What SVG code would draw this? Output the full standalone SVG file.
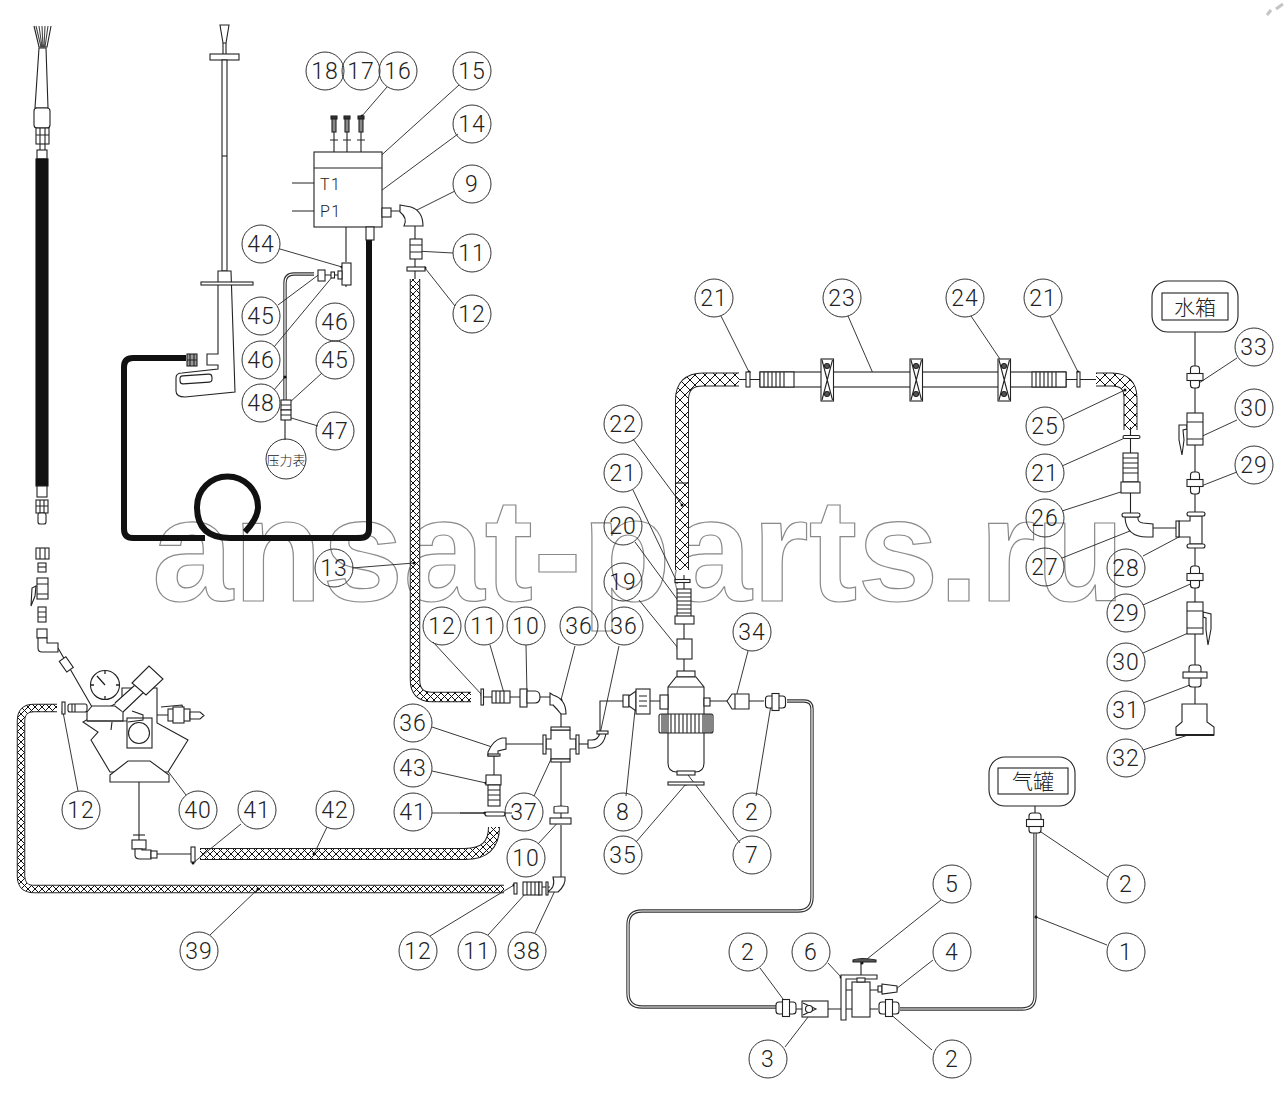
<svg xmlns="http://www.w3.org/2000/svg" width="1285" height="1116" viewBox="0 0 1285 1116">
<style>
text{font-family:Roboto,"Liberation Sans","Noto Sans CJK SC",sans-serif;fill:#222;font-weight:300}
.b circle{fill:#fff;fill-opacity:0;stroke:#333;stroke-width:1}
.b text{font-size:23px;text-anchor:middle;letter-spacing:1px}
.l,.l *{fill:none;stroke:#222;stroke-width:1.1}
.p,.p *{fill:#fff;stroke:#222;stroke-width:1.1}
.t{fill:none;stroke:#111;stroke-width:6;stroke-linejoin:round}
.e{fill:none;stroke:#222;stroke-linecap:butt}
.lead line{stroke:#222;stroke-width:.9;marker-end:url(#dot)}
.d1{fill:none;stroke:#333;stroke-width:3.4}
.d2{fill:none;stroke:#fff;stroke-width:1.2}
</style>
<defs>
<marker id="dot" markerUnits="userSpaceOnUse" markerWidth="4" markerHeight="4" refX="2" refY="2"><circle cx="2" cy="2" r="1.5" fill="#111"/></marker>
<pattern id="xs" width="7" height="7" patternUnits="userSpaceOnUse"><rect width="7" height="7" fill="#fff"/><path d="M0 0L7 7M7 0L0 7" stroke="#111" stroke-width="1"/></pattern>
<pattern id="xl" width="10" height="10" patternUnits="userSpaceOnUse"><rect width="10" height="10" fill="#fff"/><path d="M0 0L10 10M10 0L0 10" stroke="#111" stroke-width="1"/></pattern>
<g id="fit" class="p"><rect x="-4.500" y="-11" width="9" height="22" rx="3"/><rect x="-8" y="-3.500" width="16" height="7"/></g>
<g id="hfit" class="p"><rect x="-10" y="-6" width="20" height="12" rx="3"/><rect x="-3.500" y="-8.500" width="7" height="17"/></g>
<g id="clamp" class="p"><rect x="0" y="0" width="12.500" height="42"/><path d="M1 1L11.500 41M11.500 1L1 41"/><circle cx="6" cy="7" r="2.500" style="fill:#555"/><circle cx="6" cy="35" r="2.500" style="fill:#555"/></g>
<g id="corr" class="p"><rect width="34" height="15"/><path d="M4 0V15M8 0V15M12 0V15M16 0V15M20 0V15M24 0V15"/></g>
</defs>
<rect width="1285" height="1116" fill="#fff"/>
<path id="corner-mark" d="M1267 15L1271 10M1276 9L1283 4" stroke="#c4c4c4" stroke-width="3" fill="none"/>
<text id="watermark" x="152" y="601" font-size="146" textLength="973" lengthAdjust="spacingAndGlyphs" style="font-family:'Liberation Sans',sans-serif;font-weight:700;fill:none;stroke:#8a8a8a;stroke-width:1.2">ansat-parts.ru</text>

<g id="connectors">
 <!-- hoses -->
 <g id="hose-thick">
  <path class="t" d="M186 358H133Q124 358 124 367V529Q124 538 133 538H205"/>
  <path class="t" d="M245 532Q258 518 258 507A30.500 30.500 0 0 0 197 507Q197 538 230 538H360Q369 538 369 529V240"/>
 </g>
 <path class="e" stroke-width="10.500" d="M415 279V680Q415 697 432 697H471"/>
 <path class="e" style="stroke:url(#xs)" stroke-width="8.500" d="M415 279V680Q415 697 432 697H471"/>
 <path class="e" stroke-width="8.500" d="M57 708H34Q21 708 21 721V876Q21 889 34 889H504"/>
 <path class="e" style="stroke:url(#xs)" stroke-width="6.500" d="M57 708H34Q21 708 21 721V876Q21 889 34 889H504"/>
 <path class="e" stroke-width="12" d="M200 854H465Q494 854 494 827"/>
 <path class="e" style="stroke:url(#xs)" stroke-width="10" d="M200 854H465Q494 854 494 827"/>
 <path class="e" stroke-width="14" d="M682 570V400Q682 379.500 703 379.500H739"/>
 <path class="e" style="stroke:url(#xl)" stroke-width="12" d="M682 570V400Q682 379.500 703 379.500H739"/>
 <path class="l" d="M675 483H689"/>
 <path class="e" stroke-width="14" d="M1096 379.500H1112Q1130.500 379.500 1130.500 398V430"/>
 <path class="e" style="stroke:url(#xl)" stroke-width="12" d="M1096 379.500H1112Q1130.500 379.500 1130.500 398V430"/>
 <!-- double pipes -->
 <path class="d1" d="M787 701H804Q812 701 812 709V897Q812 911 798 911H642Q628 911 628 925V993Q628 1007 642 1007H776"/>
 <path class="d2" d="M787 701H804Q812 701 812 709V897Q812 911 798 911H642Q628 911 628 925V993Q628 1007 642 1007H776"/>
 <path class="d1" d="M900 1009H1022Q1035 1009 1035 996V832"/>
 <path class="d2" d="M900 1009H1022Q1035 1009 1035 996V832"/>
 <path class="d1" d="M314 274H294Q285 274 285 283V402"/>
 <path class="d2" d="M314 274H294Q285 274 285 283V402"/>
 <!-- plain lines -->
 <g class="l">
  <path d="M334 152V116M347 152V116M361 152V116M346 227V262M325 275H342"/>
  <path d="M391 211H402M415 226V240M415 259V279"/>
  <path d="M285 420V440"/>
  <path d="M739 379.500H760M1066 379.500H1096"/>
  <path d="M1130.500 427V453M1130.500 493V513M1153 528H1177"/>
  <path d="M1195 332V704"/>
  <path d="M684 575V589M684 624V639M684 659V671"/>
  <path d="M650 701H660M710 701H727M749 701H764"/>
  <path d="M623 701H600V732"/>
  <path d="M506 744H543M494 756V775M561 762V818M561 825V880"/>
  <path d="M482 697H492M510 697H520M540 697H550M561 706V727"/>
  <path d="M579 744H588"/>
  <path d="M139 748V840M157 854H191M143 715H168"/>
  <path d="M133 835H145"/>
  <path d="M1035 806V815M861 982V960M846 990H878"/>
  <path d="M796 1009H802M828 1009H878M58 648L92 707"/>
  <path d="M460 813H485M505 813H512M516 889V885M541 887H550"/>
 </g>
 <!-- leaders -->
 <g class="lead">
  <line x1="387" y1="87" x2="362" y2="116"/><line x1="459" y1="85" x2="375" y2="161"/>
  <line x1="458" y1="134" x2="374" y2="196"/><line x1="455" y1="191" x2="411" y2="213"/>
  <line x1="453" y1="253" x2="416" y2="251"/><line x1="455" y1="306" x2="425" y2="268"/>
  <line x1="280" y1="249" x2="342" y2="267"/><line x1="278" y1="305" x2="321" y2="273"/>
  <line x1="274" y1="347" x2="333" y2="276"/><line x1="322" y1="373" x2="289" y2="403"/>
  <line x1="274" y1="390" x2="285" y2="377"/><line x1="318" y1="426" x2="288" y2="417"/>
  <line x1="721" y1="316" x2="749" y2="372"/><line x1="848" y1="316" x2="875" y2="378"/>
  <line x1="971" y1="316" x2="1004" y2="365"/><line x1="1050" y1="316" x2="1078" y2="372"/>
  <line x1="633" y1="439" x2="682" y2="505"/><line x1="633" y1="490" x2="677" y2="582"/>
  <line x1="635" y1="542" x2="685" y2="610"/><line x1="639" y1="600" x2="678" y2="648"/>
  <line x1="1062" y1="420" x2="1125" y2="390"/><line x1="1062" y1="466" x2="1127" y2="437"/>
  <line x1="1062" y1="511" x2="1133" y2="488"/><line x1="1062" y1="558" x2="1140" y2="527"/>
  <line x1="1143" y1="556" x2="1194" y2="529"/><line x1="1237" y1="358" x2="1196" y2="385"/>
  <line x1="1237" y1="420" x2="1196" y2="439"/><line x1="1237" y1="472" x2="1196" y2="488"/>
  <line x1="1143" y1="605" x2="1195" y2="582"/><line x1="1143" y1="653" x2="1195" y2="630"/>
  <line x1="1143" y1="703" x2="1195" y2="683"/><line x1="1143" y1="750" x2="1197" y2="732"/>
  <line x1="78" y1="791" x2="63" y2="712"/><line x1="186" y1="795" x2="139" y2="733"/>
  <line x1="241" y1="824" x2="193" y2="863"/><line x1="327" y1="827" x2="314" y2="854"/>
  <line x1="210" y1="935" x2="258" y2="889"/><line x1="430" y1="936" x2="514" y2="885"/>
  <line x1="488" y1="935" x2="526" y2="893"/><line x1="535" y1="933" x2="560" y2="880"/>
  <line x1="538" y1="844" x2="561" y2="819"/><line x1="534" y1="796" x2="558" y2="744"/>
  <line x1="432" y1="727" x2="492" y2="747"/><line x1="432" y1="771" x2="486" y2="783"/>
  <line x1="575" y1="646" x2="561" y2="700"/><line x1="619" y1="646" x2="600" y2="734"/>
  <line x1="526" y1="645" x2="527" y2="695"/><line x1="490" y1="645" x2="506" y2="700"/>
  <line x1="433" y1="642" x2="482" y2="695"/><line x1="626" y1="796" x2="636" y2="701"/>
  <line x1="636" y1="842" x2="686" y2="784"/><line x1="740" y1="843" x2="685" y2="771"/>
  <line x1="756" y1="796" x2="771" y2="705"/><line x1="748" y1="651" x2="735" y2="701"/>
  <line x1="352" y1="568" x2="414" y2="563"/>
  <line x1="1107" y1="945" x2="1036" y2="917"/><line x1="1108" y1="877" x2="1038" y2="830"/>
  <line x1="941" y1="900" x2="862" y2="963"/><line x1="933" y1="960" x2="896" y2="989"/>
  <line x1="932" y1="1050" x2="888" y2="1012"/><line x1="785" y1="1047" x2="815" y2="1008"/>
  <line x1="828" y1="963" x2="841" y2="977"/><line x1="760" y1="968" x2="786" y2="1003"/>
  <line x1="432" y1="813" x2="485" y2="813"/>
 </g>
</g>

<g id="spray-wand" class="p">
 <path d="M34 26L39 47H47L51 26" style="fill:none"/><path d="M36 26L41 47M39 26L42 47M42 26L43 47M45 26L44 47M48 26L45 47" style="fill:none;stroke:#444"/>
 <path d="M39 48H46L48 108H35Z"/>
 <rect x="34" y="108" width="16" height="20" rx="3"/>
 <rect x="36" y="128" width="13" height="16"/><path d="M36 135H49M40 128V144M45 128V144"/>
 <path d="M40 144V150M45 144V150" style="fill:none"/>
 <rect x="37" y="150" width="10" height="9"/>
 <rect x="36" y="159" width="12" height="327" style="fill:#111;stroke:#111"/>
 <rect x="37" y="486" width="10" height="11"/>
 <rect x="36" y="500" width="12" height="13"/><path d="M36 506H48M40 500V513M44 500V513"/>
 <rect x="38" y="513" width="8" height="11" rx="2"/>
</g>

<g id="lance" class="p">
 <path d="M220 25H229L226 43H223Z"/>
 <path d="M223 43V54M226 43V54" style="fill:none"/>
 <rect x="210" y="54" width="29" height="6"/>
 <rect x="222" y="60" width="5" height="211"/>
 <path d="M222 156H227" style="fill:none"/>
 <path d="M218 271H231L235 392L185 397Q176 397 176 391V378Q176 373 182 373L218 369V365H207V354H218Z"/>
 <rect x="201" y="282" width="52" height="3"/>
 <rect x="180" y="375" width="32" height="8" rx="3" transform="rotate(-4 196 379)"/>
 <rect x="187" y="354" width="10" height="12" style="fill:#999"/><path d="M187 360H197M190 354V366M194 354V366" style="fill:none"/>
</g>

<g id="control-box" class="p">
 <rect x="314" y="152" width="68" height="75"/><path d="M314 168H382M292 183H314M292 211H314"/>
 <rect x="382" y="208" width="9" height="9"/>
 <rect x="366" y="227" width="8" height="13"/>
 <path d="M400 205L411 207Q423 211 423 226H404Q408 218 400 212Z"/>
 <rect x="410" y="239" width="12" height="20"/><path d="M410 245H422M410 252H422"/>
 <rect x="407" y="267" width="18" height="4"/>
 <text x="320" y="190" style="font-size:16px;letter-spacing:1.500px;fill:#222;stroke:none">T1</text>
 <text x="320" y="217" style="font-size:16px;letter-spacing:1.500px;fill:#222;stroke:none">P1</text>
</g>
<g id="bolts" class="p">
 <rect x="331" y="116" width="6" height="3" style="fill:#333"/><rect x="344" y="116" width="6" height="3" style="fill:#333"/><rect x="358" y="116" width="6" height="3" style="fill:#333"/>
 <rect x="332" y="119" width="4" height="13" style="fill:#888"/><rect x="345" y="119" width="4" height="13" style="fill:#888"/><rect x="359" y="119" width="4" height="13" style="fill:#888"/>
 <path d="M330 140H338M343 140H351M357 140H365" style="fill:none"/>
</g>
<g id="gauge-line" class="p">
 <rect x="342" y="263" width="9" height="22"/><rect x="338" y="271" width="4" height="8"/><path d="M346 285V287" style="fill:none"/>
 <rect x="331" y="272" width="3.500" height="6"/><rect x="318" y="270" width="7" height="11"/>
 <rect x="281" y="400" width="10" height="10"/><rect x="281" y="410" width="10" height="10"/><path d="M281 405H291M281 415H291" style="fill:none"/>
</g>

<g id="regulator" class="p">
 <path d="M122 688H157V723L188 740L168 772L110 772L91 740L98 732L83 722L122 700Z" style="fill:#fff"/>
 <path d="M110 775L128 761H150L169 775V782H110Z"/>
 <path d="M87 712L92 706H115L123 712V721H87Z"/>
 <path d="M143 721H87M115 703L135 685L144 692L123 712" style="fill:#fff"/>
 <path d="M132 683L149 666L163 679L146 695Z"/>
 <circle cx="105" cy="685" r="14.500"/><path d="M97 676L105 685M105 671V674M105 696V699M91 685H94M116 685H119" style="fill:none;stroke-width:1.300"/>
 <rect x="68" y="704" width="19" height="8" rx="2"/><path d="M72 704V712M75 704V712" style="fill:none"/>
 <rect x="62" y="702" width="3" height="12"/>
 <rect x="127" y="718" width="25" height="30"/><circle cx="139" cy="733" r="10.500"/>
 <path d="M128 722L143 720V715L132 711" style="fill:none"/>
 <path d="M111 730L112 722" style="fill:none"/>
</g>
<g id="reg-valve" class="p">
 <path d="M161 707L182 705L183 708"/>
 <rect x="168" y="709" width="22" height="12"/><rect x="173" y="707" width="11" height="16"/>
 <path d="M190 712H200L204 715.500L200 719H190Z"/>
</g>
<g id="inlet-stack" class="p">
 <rect x="36" y="548" width="13" height="11"/><path d="M40 548V559M45 548V559" style="fill:none"/>
 <rect x="38" y="563" width="8" height="9"/><path d="M38 567H46" style="fill:none"/>
 <rect x="37" y="578" width="11" height="21"/><path d="M37 584H48M37 594H48" style="fill:none"/>
 <path d="M36 586L32 588L31 606L35 596Z"/>
 <rect x="38" y="607" width="8" height="15"/><path d="M38 612H46M38 617H46" style="fill:none"/>
 <rect x="37" y="629" width="10" height="9"/>
 <path d="M38 638V648Q38 652 42 652H58V643H47V638Z"/>
 <rect x="62" y="658" width="8" height="13" transform="rotate(-35 66 664)"/>
</g>
<g id="outlet-elbow" class="p">
 <rect x="132" y="840" width="14" height="9"/>
 <path d="M135 849V855Q135 859 140 859H151V850H142V849Z"/>
 <rect x="151" y="851" width="6" height="7"/>
 <rect x="191" y="847" width="4" height="15"/>
</g>

<g id="pipe-fittings-12-10" class="p">
 <rect x="481" y="689" width="2.500" height="16"/>
 <rect x="492" y="691" width="18" height="12"/><path d="M496 691V703M500 691V703M504 691V703" style="fill:none"/>
 <rect x="520" y="689" width="7" height="18"/><path d="M527 691H535Q540 691 540 697Q540 703 535 703H527Z"/>
 <path d="M550 693V705H553Q558 710 561 714H566Q566 699 553 695Z"/>
</g>
<g id="cross-37" class="p">
 <path d="M551 730H570V739H576V749H570V759H551V749H546V739H551Z"/>
 <rect x="551" y="727" width="19" height="3"/><rect x="551" y="759" width="19" height="3"/>
 <rect x="543" y="735" width="3" height="19"/><rect x="576" y="735" width="3" height="19"/>
 <path d="M488 752Q493 740 502 738L506 738V749L498 751L498 756H488Z"/>
 <rect x="488" y="754" width="12" height="2"/>
 <path d="M588 740H592Q598 740 600 733H606Q604 747 592 748H588Z"/>
 <rect x="597" y="731" width="11" height="3"/>
 <rect x="486" y="775" width="15" height="10"/><rect x="488" y="785" width="12" height="21"/><path d="M488 790H500M488 795H500M488 800H500" style="fill:none"/>
 <rect x="485" y="812" width="20" height="4" rx="2"/>
 <path d="M554 807V813H568V807Q568 806 561 806Q554 806 554 807Z"/>
 <rect x="550" y="818" width="21" height="6"/>
 <path d="M553 877H565Q566 885 558 892L547 892Q556 888 553 877Z"/>
 <rect x="514" y="883" width="3" height="11"/>
 <rect x="523" y="882" width="16" height="13"/><path d="M527 882V895M531 882V895M535 882V895" style="fill:none"/>
 <rect x="539" y="882" width="3" height="13"/><rect x="546" y="882" width="2" height="13"/>
</g>

<g id="filter" class="p">
 <rect x="675" y="579.500" width="15" height="3"/>
 <rect x="677" y="589" width="14" height="28"/><path d="M677 593H691M677 597H691M677 601H691M677 605H691M677 609H691M677 613H691" style="fill:none"/>
 <rect x="675" y="616" width="19" height="8"/>
 <rect x="677" y="639" width="15" height="20"/>
 <rect x="677" y="671" width="18" height="6"/>
 <path d="M676 677H696L704 687V763Q704 772 695 772H677Q668 772 668 763V687Z"/>
 <path d="M668 687H704" style="fill:none"/>
 <rect x="659" y="714" width="54" height="19" rx="2"/>
 <path d="M662 714V733M664 714V733M666 714V733M668 714V733M671 714V733M675 714V733M679 714V733M683 714V733M687 714V733M691 714V733M695 714V733M699 714V733M703 714V733M705 714V733M707 714V733M709 714V733M711 714V733" style="fill:none"/>
 <rect x="677" y="771" width="18" height="4"/>
 <rect x="668" y="782" width="36" height="3"/>
 <rect x="660" y="695" width="8" height="14"/><rect x="704" y="698" width="6" height="8"/>
 <rect x="623" y="695" width="6" height="12"/><path d="M629 696L636 691V711L629 706Z"/>
 <rect x="636" y="689" width="14" height="25"/><path d="M639 696H647M639 701H647M639 706H647" style="fill:none"/>
 <path d="M727 701L732 694H749V709H732Z"/><path d="M735 694V709" style="fill:none"/>
 <use href="#hfit" x="775.500" y="702"/>
</g>

<g id="rail" class="p">
 <rect x="746" y="372" width="4" height="15"/><rect x="1077" y="372" width="3" height="15"/>
 <rect x="760" y="372" width="306" height="15"/>
 <use href="#corr" x="760" y="372"/><use href="#corr" x="1032" y="372"/>
 <use href="#clamp" x="821" y="359"/><use href="#clamp" x="910" y="359"/><use href="#clamp" x="998" y="359"/>
</g>

<g id="branch-right" class="p">
 <rect x="1123" y="435.500" width="17" height="3" rx="1.500"/>
 <rect x="1123" y="453" width="15" height="29"/><path d="M1123 458H1138M1123 463H1138M1123 468H1138M1123 473H1138" style="fill:none"/>
 <rect x="1121" y="482" width="19" height="11"/>
 <path d="M1125 517H1138Q1137 522 1143 523L1153 524V537H1147Q1126 537 1125 517Z"/>
 <rect x="1122" y="513" width="18" height="4" rx="2"/>
 <path d="M1190 516H1202V544H1190V537H1179V521H1190Z"/>
 <rect x="1187" y="512" width="18" height="4" rx="2"/><rect x="1187" y="544" width="18" height="4" rx="2"/>
 <rect x="1176" y="521" width="3" height="16"/>
</g>
<g id="column-right" class="p">
 <use href="#fit" x="1195" y="377"/>
 <path d="M1187 425H1179V440L1182 455L1184 440L1183 430L1187 429Z"/>
 <rect x="1187" y="413" width="16" height="32"/><path d="M1187 422H1203M1187 439H1203" style="fill:none"/>
 <use href="#fit" x="1195" y="483"/>
 <use href="#fit" x="1195" y="577"/>
 <path d="M1203 612L1211 614V629L1208 645L1206 630V618L1203 617Z"/>
 <rect x="1187" y="602" width="16" height="32"/><path d="M1187 611H1203M1187 628H1203" style="fill:none"/>
 <rect x="1189" y="665" width="12" height="22" rx="3"/><rect x="1183" y="672" width="24" height="6"/>
 <path d="M1182 704H1207V722L1214 727V735H1176V727L1182 722Z"/><path d="M1176 735H1214" style="stroke-width:2;fill:none"/>
</g>
<g id="water-tank" class="p">
 <rect x="1152" y="281" width="86" height="51" rx="16"/><rect x="1162" y="293" width="66" height="27"/>
 <text x="1195" y="315" text-anchor="middle" style="font-size:21px;font-family:'Noto Sans CJK SC',sans-serif;fill:#222;stroke:none">水箱</text>
</g>
<g id="gas-tank" class="p">
 <rect x="989" y="757" width="86" height="49" rx="16"/><rect x="998" y="768" width="70" height="26"/>
 <text x="1033" y="789" text-anchor="middle" style="font-size:21px;font-family:'Noto Sans CJK SC',sans-serif;fill:#222;stroke:none">气罐</text>
 <use href="#hfit" x="1035" y="823" transform="rotate(90 1035 823)"/>
</g>
<g id="valve-group" class="p">
 <use href="#hfit" x="786" y="1008"/>
 <rect x="802" y="1001" width="26" height="16"/><path d="M803 1003L816 1009L803 1015" style="fill:none"/><circle cx="809" cy="1009" r="3.500"/>
 <path d="M841 975H877V979H846V1020H841Z"/>
 <rect x="852" y="982" width="18" height="35"/>
 <rect x="857" y="978" width="8" height="4"/>
 <path d="M853 960Q861 957 876 960V962H853Z" style="fill:#555"/>
 <rect x="878" y="986" width="4" height="6"/><path d="M882 984L897 986V992L882 994Z"/>
 <use href="#hfit" x="889" y="1008"/>
</g>

<g class="b" id="balloons">
<g id="n18"><circle cx="325" cy="71" r="19"/><text x="325" y="79">18</text></g>
<g id="n17"><circle cx="361" cy="71" r="19"/><text x="361" y="79">17</text></g>
<g id="n16"><circle cx="398" cy="71" r="19"/><text x="398" y="79">16</text></g>
<g id="n15"><circle cx="472" cy="71" r="19"/><text x="472" y="79">15</text></g>
<g id="n14"><circle cx="472" cy="124" r="19"/><text x="472" y="132">14</text></g>
<g id="n9"><circle cx="472" cy="184" r="19"/><text x="472" y="192">9</text></g>
<g id="n11a"><circle cx="472" cy="253" r="19"/><text x="472" y="261">11</text></g>
<g id="n12a"><circle cx="472" cy="314" r="19"/><text x="472" y="322">12</text></g>
<g id="n44"><circle cx="261" cy="244" r="19"/><text x="261" y="252">44</text></g>
<g id="n45a"><circle cx="261" cy="316" r="19"/><text x="261" y="324">45</text></g>
<g id="n46a"><circle cx="335" cy="322" r="19"/><text x="335" y="330">46</text></g>
<g id="n45b"><circle cx="335" cy="360" r="19"/><text x="335" y="368">45</text></g>
<g id="n46b"><circle cx="261" cy="360" r="19"/><text x="261" y="368">46</text></g>
<g id="n48"><circle cx="261" cy="403" r="19"/><text x="261" y="411">48</text></g>
<g id="n47"><circle cx="335" cy="431" r="19"/><text x="335" y="439">47</text></g>
<g id="n-pressure"><circle cx="286" cy="459" r="20"/><text x="286" y="465" style="font-family:'Noto Sans CJK SC',sans-serif;font-size:13px;letter-spacing:0">压力表</text></g>
<g id="n21a"><circle cx="714" cy="298" r="19"/><text x="714" y="306">21</text></g>
<g id="n23"><circle cx="842" cy="298" r="19"/><text x="842" y="306">23</text></g>
<g id="n24"><circle cx="965" cy="298" r="19"/><text x="965" y="306">24</text></g>
<g id="n21b"><circle cx="1043" cy="298" r="19"/><text x="1043" y="306">21</text></g>
<g id="n22"><circle cx="623" cy="424" r="19"/><text x="623" y="432">22</text></g>
<g id="n21c"><circle cx="623" cy="473" r="19"/><text x="623" y="481">21</text></g>
<g id="n20"><circle cx="623" cy="526" r="19"/><text x="623" y="534">20</text></g>
<g id="n19"><circle cx="623" cy="582" r="19"/><text x="623" y="590">19</text></g>
<g id="n25"><circle cx="1045" cy="426" r="19"/><text x="1045" y="434">25</text></g>
<g id="n21d"><circle cx="1045" cy="473" r="19"/><text x="1045" y="481">21</text></g>
<g id="n26"><circle cx="1045" cy="518" r="19"/><text x="1045" y="526">26</text></g>
<g id="n27"><circle cx="1045" cy="567" r="19"/><text x="1045" y="575">27</text></g>
<g id="n28"><circle cx="1126" cy="568" r="19"/><text x="1126" y="576">28</text></g>
<g id="n33"><circle cx="1254" cy="347" r="19"/><text x="1254" y="355">33</text></g>
<g id="n30a"><circle cx="1254" cy="408" r="19"/><text x="1254" y="416">30</text></g>
<g id="n29a"><circle cx="1254" cy="465" r="19"/><text x="1254" y="473">29</text></g>
<g id="n29b"><circle cx="1126" cy="613" r="19"/><text x="1126" y="621">29</text></g>
<g id="n30b"><circle cx="1126" cy="662" r="19"/><text x="1126" y="670">30</text></g>
<g id="n31"><circle cx="1126" cy="710" r="19"/><text x="1126" y="718">31</text></g>
<g id="n32"><circle cx="1126" cy="758" r="19"/><text x="1126" y="766">32</text></g>
<g id="n13"><circle cx="334" cy="568" r="19"/><text x="334" y="576">13</text></g>
<g id="n12b"><circle cx="442" cy="626" r="19"/><text x="442" y="634">12</text></g>
<g id="n11b"><circle cx="484" cy="626" r="19"/><text x="484" y="634">11</text></g>
<g id="n10a"><circle cx="526" cy="626" r="19"/><text x="526" y="634">10</text></g>
<g id="n36a"><circle cx="579" cy="626" r="19"/><text x="579" y="634">36</text></g>
<g id="n36b"><circle cx="624" cy="626" r="19"/><text x="624" y="634">36</text></g>
<g id="n34"><circle cx="752" cy="632" r="19"/><text x="752" y="640">34</text></g>
<g id="n36c"><circle cx="413" cy="723" r="19"/><text x="413" y="731">36</text></g>
<g id="n43"><circle cx="413" cy="768" r="19"/><text x="413" y="776">43</text></g>
<g id="n41a"><circle cx="413" cy="812" r="19"/><text x="413" y="820">41</text></g>
<g id="n37"><circle cx="524" cy="812" r="19"/><text x="524" y="820">37</text></g>
<g id="n8"><circle cx="623" cy="812" r="19"/><text x="623" y="820">8</text></g>
<g id="n2a"><circle cx="752" cy="812" r="19"/><text x="752" y="820">2</text></g>
<g id="n10b"><circle cx="526" cy="858" r="19"/><text x="526" y="866">10</text></g>
<g id="n35"><circle cx="623" cy="855" r="19"/><text x="623" y="863">35</text></g>
<g id="n7"><circle cx="752" cy="855" r="19"/><text x="752" y="863">7</text></g>
<g id="n12c"><circle cx="81" cy="810" r="19"/><text x="81" y="818">12</text></g>
<g id="n40"><circle cx="198" cy="810" r="19"/><text x="198" y="818">40</text></g>
<g id="n41b"><circle cx="257" cy="810" r="19"/><text x="257" y="818">41</text></g>
<g id="n42"><circle cx="335" cy="810" r="19"/><text x="335" y="818">42</text></g>
<g id="n39"><circle cx="199" cy="951" r="19"/><text x="199" y="959">39</text></g>
<g id="n12d"><circle cx="418" cy="951" r="19"/><text x="418" y="959">12</text></g>
<g id="n11c"><circle cx="477" cy="951" r="19"/><text x="477" y="959">11</text></g>
<g id="n38"><circle cx="527" cy="951" r="19"/><text x="527" y="959">38</text></g>
<g id="n2b"><circle cx="1126" cy="884" r="19"/><text x="1126" y="892">2</text></g>
<g id="n1"><circle cx="1126" cy="952" r="19"/><text x="1126" y="960">1</text></g>
<g id="n5"><circle cx="952" cy="884" r="19"/><text x="952" y="892">5</text></g>
<g id="n4"><circle cx="952" cy="952" r="19"/><text x="952" y="960">4</text></g>
<g id="n2c"><circle cx="952" cy="1059" r="19"/><text x="952" y="1067">2</text></g>
<g id="n3"><circle cx="768" cy="1059" r="19"/><text x="768" y="1067">3</text></g>
<g id="n6"><circle cx="811" cy="952" r="19"/><text x="811" y="960">6</text></g>
<g id="n2d"><circle cx="748" cy="952" r="19"/><text x="748" y="960">2</text></g>
</g>
</svg>
